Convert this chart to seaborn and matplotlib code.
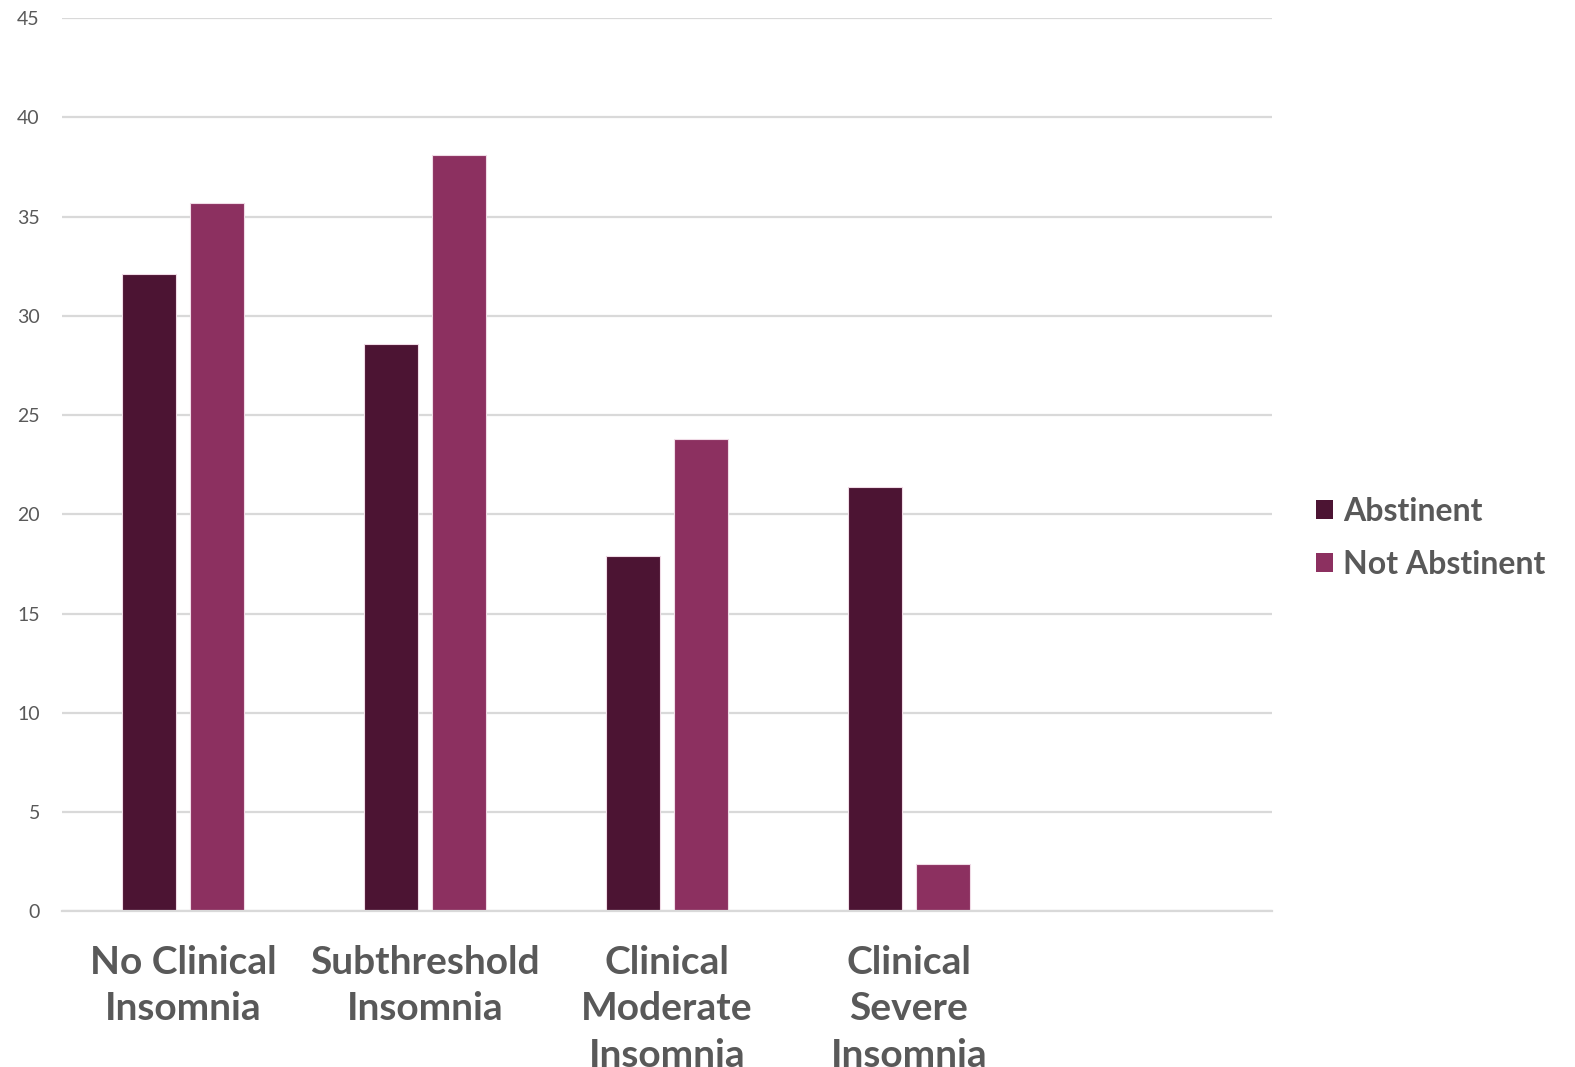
import matplotlib
matplotlib.use("Agg")
import matplotlib.pyplot as plt
import seaborn as sns
import pandas as pd
from matplotlib.patches import Patch

categories = ["No Clinical\nInsomnia", "Subthreshold\nInsomnia", "Clinical\nModerate\nInsomnia", "Clinical\nSevere\nInsomnia"]
series = ["Abstinent", "Not Abstinent"]
abstinent = [32.1, 28.6, 17.9, 21.4]
not_abstinent = [35.7, 38.1, 23.8, 2.4]
yticks = [0, 5, 10, 15, 20, 25, 30, 35, 40, 45]
colors = ["#4C1433", "#8C3060"]

df = pd.DataFrame({
    "category": categories * 2,
    "group": [series[0]] * 4 + [series[1]] * 4,
    "value": abstinent + not_abstinent,
})

sns.set_theme(style="white")
plt.rcParams["font.family"] = ["Lato", "DejaVu Sans"]

fig = plt.figure(figsize=(15.75, 10.67), dpi=100)
ax = fig.add_axes([0.0394, 0.146, 0.768, 0.837])

sns.barplot(data=df, x="category", y="value", hue="group", order=categories,
            hue_order=series, palette=colors, width=0.565, gap=0.207,
            edgecolor="#f0dbe6", linewidth=0.8, saturation=1, ax=ax, legend=False)

ax.set_xlim(-0.5, 4.5)
ax.set_ylim(0, 45)
ax.set_yticks(yticks)
ax.set_yticklabels([str(t) for t in yticks], fontsize=14, color="#595959")
ax.grid(axis="y", color="#d9d9d9", linewidth=1.6)
ax.set_axisbelow(True)
for s in ["top", "right", "left"]:
    ax.spines[s].set_visible(False)
ax.spines["bottom"].set_color("#d9d9d9")
ax.spines["bottom"].set_linewidth(1.6)
ax.tick_params(axis="both", length=0)
ax.tick_params(axis="y", pad=16)
ax.tick_params(axis="x", pad=24)
ax.set_xticks(range(len(categories)))
ax.set_xticklabels(categories, fontsize=28, fontweight="bold", color="#595959",
                   linespacing=1.4, va="top")
ax.set_xlabel("")
ax.set_ylabel("")

handles = [Patch(facecolor=c, edgecolor="none") for c in colors]
leg = fig.legend(handles, series, loc="center left", bbox_to_anchor=(0.8355, 0.496),
                 frameon=False, prop={"size": 23, "weight": "bold"},
                 handlelength=0.55, handleheight=0.55, handletextpad=0.3,
                 labelspacing=0.75, borderaxespad=0, borderpad=0)
for t in leg.get_texts():
    t.set_color("#595959")

fig.savefig("out.png", dpi=100)
